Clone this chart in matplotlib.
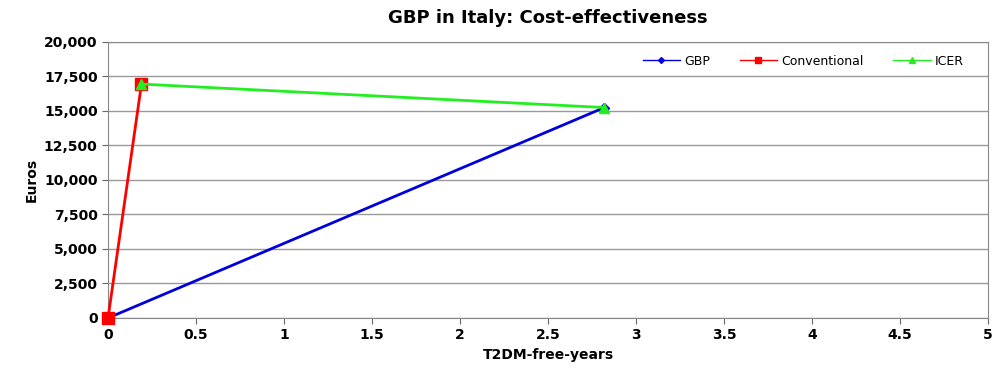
import matplotlib.pyplot as plt
from matplotlib.ticker import FuncFormatter

# data
gbp_x = [0, 2.82]
gbp_y = [0, 15250]
conv_x = [0, 0.19]
conv_y = [0, 16950]
icer_x = [0.19, 2.82]
icer_y = [16950, 15250]

fig = plt.figure(figsize=(10.03, 3.77), dpi=100)
ax = fig.add_axes([0.1077, 0.1565, 0.8773, 0.7321])

ax.plot(gbp_x, gbp_y, color='#0000dd', lw=2, marker='D', ms=5, label='GBP', zorder=2, clip_on=False)
ax.plot(conv_x, conv_y, color='#ff0000', lw=2, marker='s', ms=8, label='Conventional', zorder=3, clip_on=False)
ax.plot(icer_x, icer_y, color='#22ee22', lw=2, marker='^', ms=7, label='ICER', zorder=4, clip_on=False)

ax.set_xlim(0, 5)
ax.set_ylim(0, 20000)
ax.set_xticks([0, 0.5, 1, 1.5, 2, 2.5, 3, 3.5, 4, 4.5, 5])
ax.set_xticklabels(['0', '0.5', '1', '1.5', '2', '2.5', '3', '3.5', '4', '4.5', '5'])
ax.set_yticks(range(0, 20001, 2500))
ax.yaxis.set_major_formatter(FuncFormatter(lambda v, p: f'{int(v):,}'))
ax.yaxis.grid(True, color='#999999', lw=1)
ax.set_axisbelow(True)
ax.tick_params(axis='both', labelsize=10, length=4, color='#666666')
for lbl in ax.get_xticklabels() + ax.get_yticklabels():
    lbl.set_fontweight('bold')
for s in ax.spines.values():
    s.set_color('#888888')

ax.set_xlabel('T2DM-free-years', fontsize=10, fontweight='bold')
ax.set_ylabel('Euros', fontsize=10, fontweight='bold')
ax.set_title('GBP in Italy: Cost-effectiveness', fontsize=13, fontweight='bold', pad=14)

leg = ax.legend(loc='center right', ncol=3, fontsize=9, frameon=False,
                markerscale=0.6, handlelength=3, handletextpad=0.3, columnspacing=2.4,
                bbox_to_anchor=(0.985, 0.931))
for line in leg.get_lines():
    line.set_linewidth(1)

fig.savefig('out.png', dpi=100)
